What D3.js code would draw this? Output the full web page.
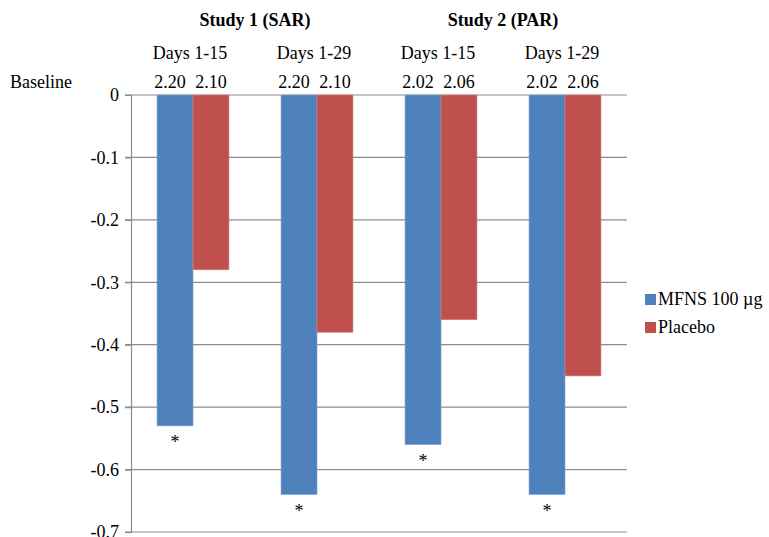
<!DOCTYPE html>
<html>
<head>
<meta charset="utf-8">
<script src="https://cdn.jsdelivr.net/npm/d3@7"></script>
<style>
  body { margin: 0; background: #fff; }
  svg { font-family: "Liberation Serif", "Times New Roman", serif; }
</style>
</head>
<body>
<svg id="chart" width="769" height="537"></svg>
<script>
let groups = ['S1D15', 'S1D29', 'S2D15', 'S2D29'];
let periodLabels = ['Days 1-15', 'Days 1-29', 'Days 1-15', 'Days 1-29'];
let studies = ['Study 1 (SAR)', 'Study 2 (PAR)'];
let seriesNames = ['MFNS 100 µg', 'Placebo'];
let mfns = [-0.53, -0.64, -0.56, -0.64];
let placebo = [-0.28, -0.38, -0.36, -0.45];
let baselineMfns = ['2.20', '2.20', '2.02', '2.02'];
let baselinePlacebo = ['2.10', '2.10', '2.06', '2.06'];
let significant = [true, true, true, true];
let yTicks = [0, -0.1, -0.2, -0.3, -0.4, -0.5, -0.6, -0.7];

let colors = ['#4F81BD', '#C0504D'];
let svg = d3.select('#chart');

let margin = {left: 131, right: 142, top: 95, bottom: 5};
let width = 769 - margin.left - margin.right;

let x0 = d3.scaleBand()
	.domain(groups)
	.range([margin.left, margin.left + width])
	.paddingInner(0.42)
	.paddingOuter(0.21);

let x1 = d3.scaleBand()
	.domain([0, 1])
	.range([0, x0.bandwidth()]);

let y = d3.scaleLinear()
	.domain([0, -0.7])
	.range([95, 532]);

// grid lines
let g = svg.append('g');
g.selectAll('line.grid')
	.data(yTicks)
	.join('line')
	.attr('class', 'grid')
	.attr('x1', margin.left - 6)
	.attr('x2', margin.left + width)
	.attr('y1', d => y(d))
	.attr('y2', d => y(d))
	.attr('stroke', '#8c8c8c')
	.attr('stroke-width', 1.2);

// y axis
let yAxis = d3.axisLeft(y)
	.tickValues(yTicks)
	.tickSize(6)
	.tickFormat(d => d === 0 ? '0' : d3.format('.1f')(d).replace('−', '-'));
let ya = svg.append('g')
	.attr('transform', `translate(${margin.left},0)`)
	.call(yAxis);
ya.select('.domain').attr('stroke', '#8c8c8c').attr('stroke-width', 1.2);
ya.selectAll('.tick line').attr('stroke', '#8c8c8c').attr('stroke-width', 1.2);
ya.selectAll('.tick text')
	.attr('font-size', 18)
	.attr('font-family', '"Liberation Serif", serif')
	.attr('fill', '#000')
	.attr('x', -12);

// bars
let seriesData = [mfns, placebo];
seriesData.forEach(function(vals, s) {
	svg.append('g')
		.selectAll('rect')
		.data(vals)
		.join('rect')
		.attr('x', (d, i) => x0(groups[i]) + x1(s))
		.attr('width', x1.bandwidth())
		.attr('y', y(0))
		.attr('height', d => y(d) - y(0))
		.attr('fill', colors[s])
		.attr('stroke', s === 0 ? '#7ea6d8' : '#d8807e')
		.attr('stroke-width', 0.6);
});

// asterisks
svg.append('g')
	.selectAll('text')
	.data(mfns)
	.join('text')
	.filter((d, i) => significant[i])
	.attr('x', (d, i) => x0(groups[i]) + x1(0) + x1.bandwidth() / 2)
	.attr('y', d => y(d) + 22)
	.attr('text-anchor', 'middle')
	.attr('font-size', 18)
	.text('*');

// baseline values
svg.append('g')
	.selectAll('text')
	.data(baselineMfns)
	.join('text')
	.attr('x', (d, i) => x0(groups[i]) + x1(0) + x1.bandwidth() / 2 - 5)
	.attr('y', 88)
	.attr('text-anchor', 'middle')
	.attr('font-size', 18)
	.text(d => d);
svg.append('g')
	.selectAll('text')
	.data(baselinePlacebo)
	.join('text')
	.attr('x', (d, i) => x0(groups[i]) + x1(1) + x1.bandwidth() / 2)
	.attr('y', 88)
	.attr('text-anchor', 'middle')
	.attr('font-size', 18)
	.text(d => d);

svg.append('text')
	.attr('x', 10)
	.attr('y', 88)
	.attr('font-size', 18)
	.text('Baseline');

// period labels
svg.append('g')
	.selectAll('text')
	.data(periodLabels)
	.join('text')
	.attr('x', (d, i) => x0(groups[i]) + x0.bandwidth() / 2 - 3)
	.attr('y', 59)
	.attr('text-anchor', 'middle')
	.attr('font-size', 18)
	.text(d => d);

// study labels
svg.append('g')
	.selectAll('text')
	.data(studies)
	.join('text')
	.attr('x', (d, i) => (x0(groups[2 * i]) + x0(groups[2 * i + 1]) + x0.bandwidth()) / 2)
	.attr('y', 26)
	.attr('text-anchor', 'middle')
	.attr('font-size', 18)
	.attr('font-weight', 'bold')
	.text(d => d);

// legend
let legend = svg.append('g')
	.selectAll('g')
	.data(seriesNames)
	.join('g')
	.attr('transform', (d, i) => `translate(645,${294 + i * 28})`);
legend.append('rect')
	.attr('width', 11)
	.attr('height', 11)
	.attr('fill', (d, i) => colors[i]);
legend.append('text')
	.attr('x', 13)
	.attr('y', 11)
	.attr('font-size', 18)
	.text(d => d);
</script>
</body>
</html>
